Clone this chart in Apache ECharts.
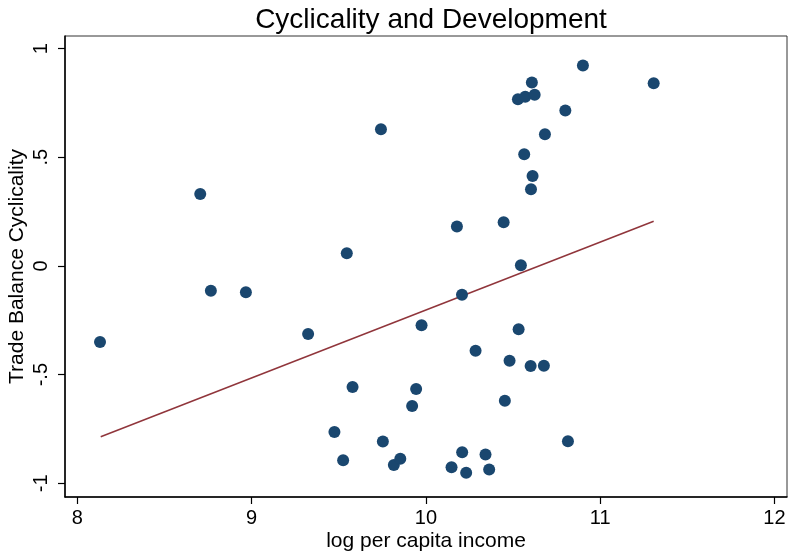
<!DOCTYPE html>
<html><head><meta charset="utf-8">
<script src="https://cdn.jsdelivr.net/npm/echarts@6/dist/echarts.min.js"></script>
<style>html,body{margin:0;padding:0;background:#fff}#c{width:789px;height:554px}</style>
</head><body><div id="c"></div>
<script>
const logIncome = [8.13,8.705,8.766,8.967,9.324,9.546,9.742,9.579,9.475,9.525,9.753,9.816,9.853,9.975,9.944,9.921,10.207,10.285,10.532,10.480,10.601,10.677,10.453,10.815,10.208,10.147,10.231,10.342,10.363,10.901,11.307,10.608,10.528,10.570,10.624,10.800,10.683,10.564,10.612,10.603,10.446,10.178,10.545];
const cyclicality = [-0.35,0.331,-0.114,-0.121,-0.313,0.058,0.629,-0.557,-0.764,-0.894,-0.808,-0.916,-0.887,-0.273,-0.566,-0.644,-0.132,-0.390,-0.291,-0.436,-0.460,-0.459,-0.620,-0.807,-0.857,-0.926,-0.951,-0.867,-0.937,0.922,0.841,0.844,0.767,0.778,0.788,0.715,0.606,0.514,0.414,0.353,0.201,0.181,0.003];
const fitX = [8.134, 11.307];
const fitY = [-0.786, 0.206];
const xTicks = [8,9,10,11,12];
const yTicks = [-1,-0.5,0,0.5,1];
const yTickLabels = {'-1':'-1','-0.5':'-.5','0':'0','0.5':'.5','1':'1'};

const points = logIncome.map((x,i)=>[x,cyclicality[i]]);
const fitLine = fitX.map((x,i)=>[x,fitY[i]]);
const font = '"Liberation Sans", Arial, sans-serif';
const chart = echarts.init(document.getElementById('c'), null, {renderer:'canvas'});
chart.setOption({
  animation:false,
  backgroundColor:'#fff',
  title:{text:'Cyclicality and Development', left:426, textAlign:'center', top:1,
    textStyle:{fontFamily:font, fontSize:28, fontWeight:'normal', color:'#000'}},
  grid:{left:65, right:2, top:36, bottom:57, containLabel:false, outerBoundsMode:'none',
    show:true, borderColor:'#333', borderWidth:1, backgroundColor:'#fff'},
  xAxis:{type:'value', min:7.929, max:12.072,
    name:'log per capita income', nameLocation:'middle', nameGap:34, nameMoveOverlap:false,
    nameTextStyle:{fontFamily:font, fontSize:21, color:'#000'},
    axisLine:{show:true, onZero:false, lineStyle:{color:'#000', width:1.5}},
    axisTick:{show:true, length:7, lineStyle:{color:'#000', width:1.2}, customValues:xTicks},
    axisLabel:{fontFamily:font, fontSize:20, color:'#000', margin:11, customValues:xTicks, showMinLabel:true, showMaxLabel:true},
    splitLine:{show:false}},
  yAxis:{type:'value', min:-1.063, max:1.058,
    name:'Trade Balance Cyclicality', nameLocation:'middle', nameGap:37, nameMoveOverlap:false,
    nameTextStyle:{fontFamily:font, fontSize:21, color:'#000'},
    axisLine:{show:true, onZero:false, lineStyle:{color:'#000', width:1.5}},
    axisTick:{show:true, length:7, lineStyle:{color:'#000', width:1.2}, customValues:yTicks},
    axisLabel:{fontFamily:font, fontSize:20, color:'#000', rotate:90, margin:14, customValues:yTicks,
      formatter:v=>{const k=String(Math.round(v*10)/10);return yTickLabels[k]!==undefined?yTickLabels[k]:k;}},
    splitLine:{show:false}},
  series:[
    {type:'scatter', data:points, symbol:'circle', symbolSize:12, itemStyle:{color:'#1a476f', opacity:1}, z:3},
    {type:'line', data:fitLine, symbol:'none', lineStyle:{color:'#90353b', width:1.5}, z:2}
  ]
});
</script></body></html>
